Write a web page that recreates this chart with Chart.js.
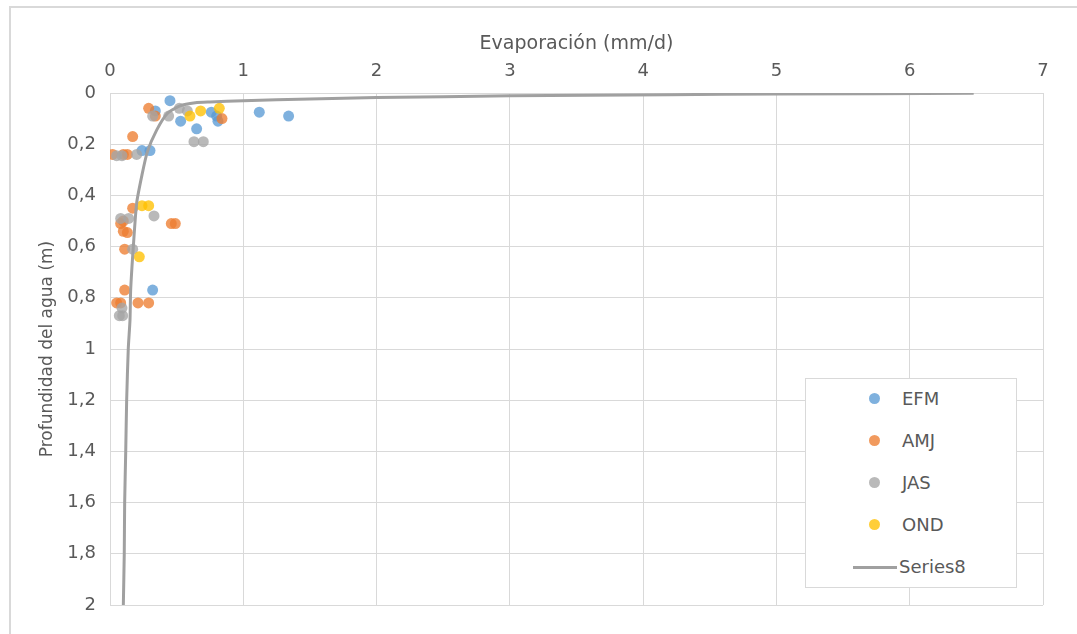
<!DOCTYPE html>
<html lang="es">
<head>
    <meta charset="UTF-8">
    <title>Evaporación vs profundidad</title>
    <style>
        body {
            margin: 0;
            background-color: #ffffff;
            font-family: 'DejaVu Sans', sans-serif;
            overflow: hidden;
        }
        .frame {
            position: absolute;
            left: 9px;
            top: 6px;
            width: 1200px;
            height: 800px;
            border: 2px solid #d9d9d9;
        }
        .wrap {
            position: absolute;
            left: 0;
            top: 0;
            width: 1077px;
            height: 634px;
        }
        .legend {
            position: absolute;
            left: 805px;
            top: 378px;
            width: 210px;
            height: 208px;
            border: 1px solid #d9d9d9;
            background-color: #ffffff;
            color: #595959;
            font-size: 18px;
        }
        .legend .item {
            position: absolute;
            left: 0;
            height: 22px;
            line-height: 22px;
        }
        .legend .dot {
            position: absolute;
            left: 63px;
            top: 5px;
            width: 11px;
            height: 11px;
            border-radius: 50%;
        }
        .legend .dash {
            position: absolute;
            left: 47px;
            top: 10px;
            width: 44px;
            height: 3px;
            background-color: #a0a0a0;
        }
        .legend .label {
            position: absolute;
            left: 96px;
            white-space: nowrap;
        }
    </style>
</head>
<body>
    <div class="frame"></div>
    <div class="wrap"><canvas id="chart"></canvas></div>
    <div class="legend" id="legend"></div>

    <script src="https://cdn.jsdelivr.net/npm/chart.js"></script>
    <script>
        // evaporación (mm/d) y profundidad (m) de cada punto, por trimestre
        const efmX = [0.45, 0.34, 0.53, 0.65, 0.76, 0.80, 0.81, 1.12, 1.34, 0.24, 0.30, 0.32];
        const efmY = [0.03, 0.07, 0.11, 0.14, 0.075, 0.09, 0.11, 0.075, 0.09, 0.225, 0.225, 0.77];

        const amjX = [0.29, 0.34, 0.84, 0.17, 0.02, 0.10, 0.13, 0.17, 0.10, 0.08, 0.46, 0.49, 0.10, 0.13, 0.11, 0.11, 0.05, 0.08, 0.21, 0.29];
        const amjY = [0.06, 0.09, 0.10, 0.17, 0.24, 0.24, 0.24, 0.45, 0.50, 0.51, 0.51, 0.51, 0.54, 0.545, 0.61, 0.77, 0.82, 0.82, 0.82, 0.82];

        const jasX = [0.32, 0.44, 0.52, 0.58, 0.63, 0.70, 0.05, 0.09, 0.20, 0.08, 0.14, 0.33, 0.17, 0.09, 0.095, 0.07];
        const jasY = [0.09, 0.09, 0.06, 0.07, 0.19, 0.19, 0.245, 0.245, 0.24, 0.49, 0.49, 0.48, 0.61, 0.84, 0.87, 0.87];

        const ondX = [0.60, 0.68, 0.82, 0.24, 0.29, 0.22];
        const ondY = [0.09, 0.07, 0.06, 0.44, 0.44, 0.64];

        // curva ajustada (Series8)
        const fitX = [6.48, 5.0, 4.2, 3.0, 2.0, 1.5, 1.0, 0.75, 0.64, 0.525, 0.43, 0.35, 0.28, 0.24, 0.20, 0.175, 0.155, 0.15, 0.137, 0.125, 0.118, 0.11, 0.107, 0.10];
        const fitY = [0.001, 0.004, 0.0065, 0.011, 0.018, 0.023, 0.03, 0.035, 0.038, 0.05, 0.08, 0.145, 0.23, 0.32, 0.43, 0.60, 0.77, 0.887, 1.0, 1.2, 1.4, 1.6, 1.8, 2.0];

        const seriesNames = ['EFM', 'AMJ', 'JAS', 'OND', 'Series8'];
        const seriesColors = ['rgba(91, 155, 213, 0.78)', 'rgba(237, 125, 49, 0.78)', 'rgba(165, 165, 165, 0.78)', 'rgba(255, 192, 0, 0.78)', '#a0a0a0'];

        function toPoints(xs, ys) {
            return xs.map((x, i) => ({ x: x, y: ys[i] }));
        }

        function fmt(v) {
            return (Math.round(v * 10) / 10).toString().replace('.', ',');
        }

        const pointSets = [toPoints(efmX, efmY), toPoints(amjX, amjY), toPoints(jasX, jasY), toPoints(ondX, ondY)];

        const datasets = pointSets.map((pts, i) => ({
            label: seriesNames[i],
            data: pts,
            backgroundColor: seriesColors[i],
            borderWidth: 0,
            pointRadius: 5.5,
            order: 4 - i
        }));

        datasets.push({
            label: seriesNames[4],
            data: toPoints(fitX, fitY),
            showLine: true,
            borderColor: seriesColors[4],
            borderWidth: 3,
            pointRadius: 0,
            tension: 0.2,
            order: 0
        });

        const tickColor = '#595959';
        const gridColor = '#d9d9d9';

        new Chart(document.getElementById('chart'), {
            type: 'scatter',
            data: { datasets: datasets },
            options: {
                responsive: true,
                maintainAspectRatio: false,
                animation: false,
                events: [],
                layout: { padding: { left: 0, top: 0, right: 34, bottom: 29 } },
                plugins: {
                    legend: { display: false },
                    tooltip: { enabled: false }
                },
                scales: {
                    x: {
                        type: 'linear',
                        position: 'top',
                        min: 0,
                        max: 7,
                        ticks: {
                            stepSize: 1,
                            color: tickColor,
                            font: { family: 'DejaVu Sans', size: 18 },
                            padding: 11,
                            callback: fmt
                        },
                        grid: { color: gridColor, drawTicks: false },
                        border: { color: gridColor },
                        title: {
                            display: true,
                            text: 'Evaporación (mm/d)',
                            color: tickColor,
                            font: { family: 'DejaVu Sans', size: 19 },
                            padding: { top: 33, bottom: 0 }
                        },
                        afterFit: function (scale) { scale.height = 93; }
                    },
                    y: {
                        type: 'linear',
                        reverse: true,
                        min: 0,
                        max: 2,
                        ticks: {
                            stepSize: 0.2,
                            color: tickColor,
                            font: { family: 'DejaVu Sans', size: 18 },
                            padding: 14,
                            callback: fmt
                        },
                        grid: { color: gridColor, drawTicks: false },
                        border: { color: gridColor },
                        title: {
                            display: true,
                            text: 'Profundidad del agua (m)',
                            color: tickColor,
                            font: { family: 'DejaVu Sans', size: 17 },
                            padding: { top: 37, bottom: 0 }
                        },
                        afterFit: function (scale) { scale.width = 110; }
                    }
                }
            }
        });

        // leyenda dentro del área de trazado
        const legend = document.getElementById('legend');
        seriesNames.forEach((name, i) => {
            const item = document.createElement('div');
            item.className = 'item';
            item.style.top = (9 + i * 42) + 'px';
            const mark = document.createElement('span');
            mark.className = i < 4 ? 'dot' : 'dash';
            if (i < 4) mark.style.backgroundColor = seriesColors[i];
            const label = document.createElement('span');
            label.className = 'label';
            label.textContent = name;
            if (i === 4) label.style.left = '93px';
            item.appendChild(mark);
            item.appendChild(label);
            legend.appendChild(item);
        });
    </script>
</body>
</html>
